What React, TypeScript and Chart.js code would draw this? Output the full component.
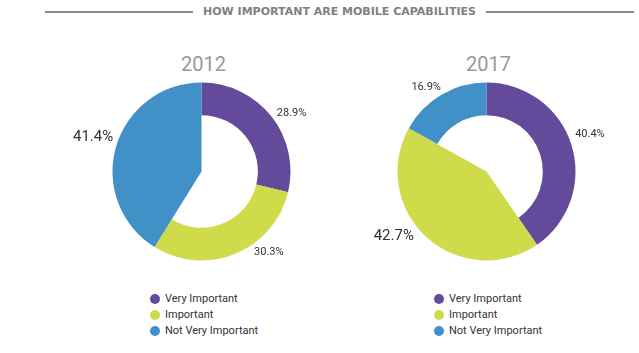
import React, { useEffect, useRef } from 'react';
import { Chart, ArcElement, DoughnutController } from 'chart.js';

Chart.register(ArcElement, DoughnutController);

const titleText = 'HOW IMPORTANT ARE MOBILE CAPABILITIES';
const categories = ['Very Important', 'Important', 'Not Very Important'];
const years = ['2012', '2017'];
const values2012 = [28.9, 30.3, 41.4];
const values2017 = [40.4, 42.7, 16.9];
const colors = ['#634a9b', '#cfdb4b', '#4191c8'];

// style: small nudges of the percentage labels (px), per chart
const labelNudge2012 = [[0, 1.5], [16, -8], [4, -7.5]];
const labelNudge2017 = [[-3, -9], [-8, -6.5], [3, -1]];

const RADIUS = 89;
const INNER = 63;

const bigSlicePlugin = {
  id: 'bigSlice',
  beforeDatasetsDraw(chart: any) {
    const meta = chart.getDatasetMeta(0);
    const vals: number[] = chart.data.datasets[0].data;
    const big = vals.indexOf(Math.max(...vals));
    const arc = meta.data[big];
    if (arc) arc.innerRadius = 0;
  },
};

const labelPlugin = {
  id: 'pctLabels',
  afterDatasetsDraw(chart: any, _args: any, opts: any) {
    const meta = chart.getDatasetMeta(0);
    const vals: number[] = chart.data.datasets[0].data;
    const big = vals.indexOf(Math.max(...vals));
    const nudge: number[][] = opts.nudge || [];
    const ctx = chart.ctx;
    ctx.save();
    meta.data.forEach((arc: any, i: number) => {
      const { x, y, startAngle, endAngle, outerRadius } = arc.getProps(
        ['x', 'y', 'startAngle', 'endAngle', 'outerRadius'],
        true
      );
      const mid = (startAngle + endAngle) / 2;
      const r = outerRadius + 7;
      const [dx, dy] = nudge[i] || [0, 0];
      const px = x + Math.cos(mid) * r + dx;
      const py = y + Math.sin(mid) * r + dy;
      ctx.font = `${i === big ? 15 : 11}px Roboto`;
      ctx.fillStyle = '#333333';
      ctx.textAlign = Math.cos(mid) >= 0 ? 'left' : 'right';
      ctx.textBaseline = 'middle';
      ctx.fillText(`${vals[i].toFixed(1)}%`, px, py);
    });
    ctx.restore();
  },
};

function Donut({ values, left, top, nudge }: { values: number[]; left: number; top: number; nudge: number[][] }) {
  const ref = useRef<HTMLCanvasElement>(null);
  useEffect(() => {
    const chart = new Chart(ref.current as HTMLCanvasElement, {
      type: 'doughnut',
      data: {
        labels: categories,
        datasets: [
          {
            data: values,
            backgroundColor: colors,
            borderWidth: 0,
            hoverOffset: 0,
          } as any,
        ],
      },
      options: {
        responsive: false,
        animation: false,
        events: [],
        radius: RADIUS,
        cutout: INNER,
        layout: { padding: 0 },
        plugins: {
          legend: { display: false },
          tooltip: { enabled: false },
          pctLabels: { nudge },
        },
      } as any,
      plugins: [bigSlicePlugin, labelPlugin],
    });
    return () => chart.destroy();
  }, []);
  return (
    <canvas
      ref={ref}
      width={281}
      height={199}
      style={{ position: 'absolute', left, top, width: 281, height: 199 }}
    />
  );
}

function Legend({ left }: { left: number }) {
  return (
    <>
      {categories.map((c, i) => (
        <div
          key={c}
          style={{
            position: 'absolute',
            left,
            top: 291 + i * 16,
            height: 16,
            lineHeight: '16px',
            fontFamily: 'Roboto',
            fontSize: 11,
            color: '#333',
            whiteSpace: 'nowrap',
            display: 'flex',
            alignItems: 'center',
          }}
        >
          <span
            style={{
              display: 'inline-block',
              width: 10,
              height: 10,
              borderRadius: 5,
              background: colors[i],
              marginRight: 5,
            }}
          />
          {c}
        </div>
      ))}
    </>
  );
}

export default function App() {
  const centers = [201.5, 486.5];
  return (
    <div style={{ position: 'absolute', left: 0, top: 0, width: 639, height: 353, background: '#fff', overflow: 'hidden' }}>
      <div style={{ position: 'absolute', left: 45, top: 11, width: 148, height: 2, background: '#8a8a8a' }} />
      <div style={{ position: 'absolute', left: 486, top: 11, width: 148, height: 2, background: '#8a8a8a' }} />
      <div
        style={{
          position: 'absolute',
          left: 193,
          width: 293,
          top: 5,
          textAlign: 'center',
          fontFamily: 'DejaVu Sans',
          fontWeight: 'bold',
          fontSize: 11,
          color: '#808080',
          whiteSpace: 'nowrap',
        }}
      >
        {titleText}
      </div>
      {years.map((y, i) => (
        <div
          key={y}
          style={{
            position: 'absolute',
            left: centers[i] - 60 + 2,
            width: 120,
            top: 52,
            textAlign: 'center',
            fontFamily: 'Roboto',
            fontSize: 20,
            color: '#999',
          }}
        >
          {y}
        </div>
      ))}
      <Donut values={values2012} left={61} top={72} nudge={labelNudge2012} />
      <Donut values={values2017} left={346} top={72} nudge={labelNudge2017} />
      <Legend left={150} />
      <Legend left={434} />
    </div>
  );
}
